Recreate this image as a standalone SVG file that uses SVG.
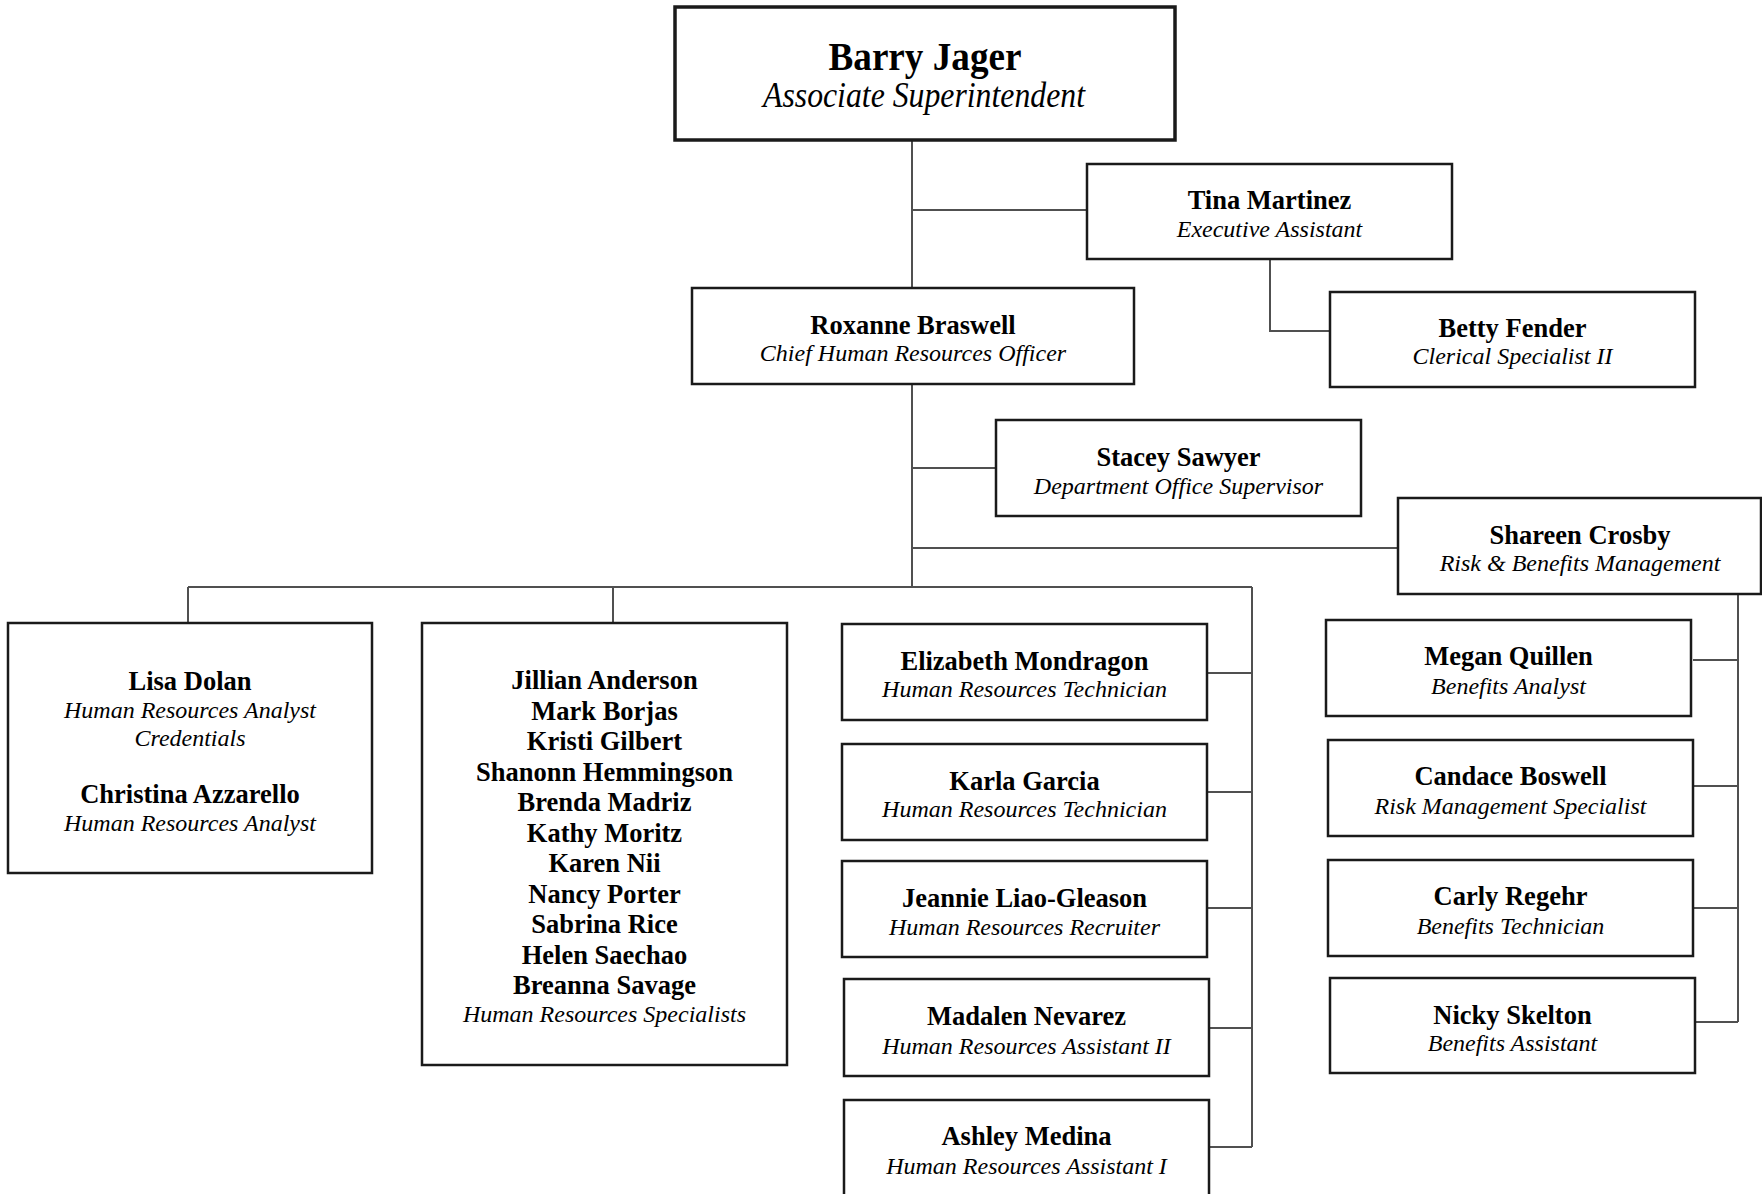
<svg xmlns="http://www.w3.org/2000/svg" width="1762" height="1194" viewBox="0 0 1762 1194">
<style>
.bg{fill:#ffffff}
.box{fill:#ffffff;stroke:#1a1a1a;stroke-width:2.5}
.top{fill:#ffffff;stroke:#1a1a1a;stroke-width:3.5}
.c{fill:none;stroke:#505050;stroke-width:2}
text{font-family:"Liberation Serif","Times New Roman",serif;fill:#000;text-anchor:middle}
.n{font-weight:bold;font-size:26.5px}
.t{font-style:italic;font-size:24px}
.bn{font-weight:bold;font-size:41px}
.bt{font-style:italic;font-size:35px}
</style>
<rect class="bg" x="0" y="0" width="1762" height="1194"/>
<g id="connectors">
<path class="c" d="M912,140 V288"/>
<path class="c" d="M912,210 H1087"/>
<path class="c" d="M1270,259 V331 H1330"/>
<path class="c" d="M912,384 V587"/>
<path class="c" d="M912,468 H996"/>
<path class="c" d="M912,548 H1398"/>
<path class="c" d="M188,587 H1252"/>
<path class="c" d="M188,587 V623"/>
<path class="c" d="M613,587 V623"/>
<path class="c" d="M1252,587 V1147"/>
<path class="c" d="M1207,673 H1252"/>
<path class="c" d="M1207,792 H1252"/>
<path class="c" d="M1207,908 H1252"/>
<path class="c" d="M1209,1028 H1252"/>
<path class="c" d="M1209,1147 H1252"/>
<path class="c" d="M1738,594 V1022"/>
<path class="c" d="M1693,660 H1738"/>
<path class="c" d="M1693,786 H1738"/>
<path class="c" d="M1693,908 H1738"/>
<path class="c" d="M1693,1022 H1738"/>
</g>
<g id="barry">
<rect class="top" x="675" y="7" width="500" height="133"/>
<text class="bn" x="925" y="70" textLength="193" lengthAdjust="spacingAndGlyphs">Barry Jager</text>
<text class="bt" x="924" y="107" textLength="322" lengthAdjust="spacingAndGlyphs">Associate Superintendent</text>
</g>
<g id="tina">
<rect class="box" x="1087" y="164" width="365" height="95"/>
<text class="n" x="1269.5" y="209">Tina Martinez</text>
<text class="t" x="1269.5" y="237">Executive Assistant</text>
</g>
<g id="betty">
<rect class="box" x="1330" y="292" width="365" height="95"/>
<text class="n" x="1512.5" y="337">Betty Fender</text>
<text class="t" x="1512.5" y="364">Clerical Specialist II</text>
</g>
<g id="roxanne">
<rect class="box" x="692" y="288" width="442" height="96"/>
<text class="n" x="913" y="334">Roxanne Braswell</text>
<text class="t" x="913" y="361">Chief Human Resources Officer</text>
</g>
<g id="stacey">
<rect class="box" x="996" y="420" width="365" height="96"/>
<text class="n" x="1178.5" y="466">Stacey Sawyer</text>
<text class="t" x="1178.5" y="494">Department Office Supervisor</text>
</g>
<g id="shareen">
<rect class="box" x="1398" y="498" width="363" height="96"/>
<text class="n" x="1580" y="544">Shareen Crosby</text>
<text class="t" x="1580" y="571">Risk &amp; Benefits Management</text>
</g>
<g id="lisa">
<rect class="box" x="8" y="623" width="364" height="250"/>
<text class="n" x="190" y="690">Lisa Dolan</text>
<text class="t" x="190" y="718">Human Resources Analyst</text>
<text class="t" x="190" y="746">Credentials</text>
<text class="n" x="190" y="803">Christina Azzarello</text>
<text class="t" x="190" y="831">Human Resources Analyst</text>
</g>
<g id="specialists">
<rect class="box" x="422" y="623" width="365" height="442"/>
<text class="n" x="604.5" y="689">Jillian Anderson</text>
<text class="n" x="604.5" y="719.5">Mark Borjas</text>
<text class="n" x="604.5" y="750">Kristi Gilbert</text>
<text class="n" x="604.5" y="780.5">Shanonn Hemmingson</text>
<text class="n" x="604.5" y="811">Brenda Madriz</text>
<text class="n" x="604.5" y="841.5">Kathy Moritz</text>
<text class="n" x="604.5" y="872">Karen Nii</text>
<text class="n" x="604.5" y="902.5">Nancy Porter</text>
<text class="n" x="604.5" y="933">Sabrina Rice</text>
<text class="n" x="604.5" y="963.5">Helen Saechao</text>
<text class="n" x="604.5" y="994">Breanna Savage</text>
<text class="t" x="604.5" y="1022">Human Resources Specialists</text>
</g>
<g id="elizabeth">
<rect class="box" x="842" y="624" width="365" height="96"/>
<text class="n" x="1024.5" y="670">Elizabeth Mondragon</text>
<text class="t" x="1024.5" y="697">Human Resources Technician</text>
</g>
<g id="karla">
<rect class="box" x="842" y="744" width="365" height="96"/>
<text class="n" x="1024.5" y="790">Karla Garcia</text>
<text class="t" x="1024.5" y="817">Human Resources Technician</text>
</g>
<g id="jeannie">
<rect class="box" x="842" y="861" width="365" height="96"/>
<text class="n" x="1024.5" y="907">Jeannie Liao-Gleason</text>
<text class="t" x="1024.5" y="935">Human Resources Recruiter</text>
</g>
<g id="madalen">
<rect class="box" x="844" y="979" width="365" height="97"/>
<text class="n" x="1026.5" y="1025">Madalen Nevarez</text>
<text class="t" x="1026.5" y="1054">Human Resources Assistant II</text>
</g>
<g id="ashley">
<rect class="box" x="844" y="1100" width="365" height="100"/>
<text class="n" x="1026.5" y="1145">Ashley Medina</text>
<text class="t" x="1026.5" y="1174">Human Resources Assistant I</text>
</g>
<g id="megan">
<rect class="box" x="1326" y="620" width="365" height="96"/>
<text class="n" x="1508.5" y="665">Megan Quillen</text>
<text class="t" x="1508.5" y="694">Benefits Analyst</text>
</g>
<g id="candace">
<rect class="box" x="1328" y="740" width="365" height="96"/>
<text class="n" x="1510.5" y="785">Candace Boswell</text>
<text class="t" x="1510.5" y="814">Risk Management Specialist</text>
</g>
<g id="carly">
<rect class="box" x="1328" y="860" width="365" height="96"/>
<text class="n" x="1510.5" y="905">Carly Regehr</text>
<text class="t" x="1510.5" y="934">Benefits Technician</text>
</g>
<g id="nicky">
<rect class="box" x="1330" y="978" width="365" height="95"/>
<text class="n" x="1512.5" y="1024">Nicky Skelton</text>
<text class="t" x="1512.5" y="1051">Benefits Assistant</text>
</g>
</svg>
